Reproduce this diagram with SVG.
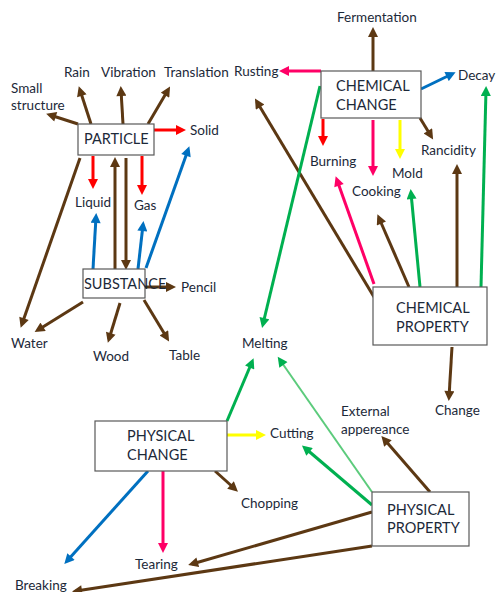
<svg xmlns="http://www.w3.org/2000/svg" width="497" height="592" viewBox="0 0 497 592">
<defs>
<style>
text{font-family:Lato,"Open Sans","Liberation Sans",sans-serif;font-size:13.5px;fill:#1c2939}
.bx{font-size:14.5px}
rect{fill:#fff;stroke:#595959;stroke-width:1.2}
line{stroke-width:3;fill:none}
.br{stroke:#5c3813;marker-end:url(#mbr)}
.rd{stroke:#ff0000;marker-end:url(#mrd)}
.pk{stroke:#ff0066;marker-end:url(#mpk)}
.bl{stroke:#0070c0;marker-end:url(#mbl)}
.gn{stroke:#00b050;marker-end:url(#mgn)}
.lg{stroke:#5ccb7c;stroke-width:2;marker-end:url(#mlg)}
.yl{stroke:#ffff00;marker-end:url(#myl)}
</style>
<marker id="mbr" viewBox="0 0 10 10" refX="6" refY="5" markerWidth="11" markerHeight="10" markerUnits="userSpaceOnUse" orient="auto"><path d="M0,0L10,5L0,10z" fill="#5c3813"/></marker>
<marker id="mrd" viewBox="0 0 10 10" refX="6" refY="5" markerWidth="11" markerHeight="10" markerUnits="userSpaceOnUse" orient="auto"><path d="M0,0L10,5L0,10z" fill="#ff0000"/></marker>
<marker id="mpk" viewBox="0 0 10 10" refX="6" refY="5" markerWidth="11" markerHeight="10" markerUnits="userSpaceOnUse" orient="auto"><path d="M0,0L10,5L0,10z" fill="#ff0066"/></marker>
<marker id="mbl" viewBox="0 0 10 10" refX="6" refY="5" markerWidth="11" markerHeight="10" markerUnits="userSpaceOnUse" orient="auto"><path d="M0,0L10,5L0,10z" fill="#0070c0"/></marker>
<marker id="mgn" viewBox="0 0 10 10" refX="6" refY="5" markerWidth="11" markerHeight="10" markerUnits="userSpaceOnUse" orient="auto"><path d="M0,0L10,5L0,10z" fill="#00b050"/></marker>
<marker id="mlg" viewBox="0 0 10 10" refX="6" refY="5" markerWidth="11" markerHeight="10" markerUnits="userSpaceOnUse" orient="auto"><path d="M0,0L10,5L0,10z" fill="#00b050"/></marker>
<marker id="myl" viewBox="0 0 10 10" refX="6" refY="5" markerWidth="11" markerHeight="10" markerUnits="userSpaceOnUse" orient="auto"><path d="M0,0L10,5L0,10z" fill="#ffff00"/></marker>
</defs>
<rect x="0" y="0" width="497" height="592" style="fill:#fff;stroke:none"/>

<g id="connectors">
<line class="br" x1="78" y1="124" x2="50" y2="115"/>
<line class="br" x1="91" y1="124" x2="80" y2="90"/>
<line class="br" x1="123" y1="124" x2="121" y2="90"/>
<line class="br" x1="148" y1="124" x2="168" y2="90"/>
<line class="br" x1="115" y1="269" x2="115" y2="161"/>
<line class="br" x1="126" y1="158" x2="126" y2="266"/>
<line class="br" x1="80" y1="158" x2="22" y2="324"/>
<line class="br" x1="83" y1="302" x2="38" y2="330"/>
<line class="br" x1="120" y1="303" x2="109" y2="339"/>
<line class="br" x1="144" y1="300" x2="167" y2="338"/>
<line class="br" x1="145" y1="287" x2="172" y2="287"/>
<line class="br" x1="373" y1="71" x2="373" y2="31"/>
<line class="br" x1="420" y1="118" x2="431" y2="136"/>
<line class="br" x1="374" y1="297" x2="257" y2="102"/>
<line class="br" x1="409" y1="287" x2="379" y2="218"/>
<line class="br" x1="457" y1="287" x2="457" y2="168"/>
<line class="br" x1="452" y1="347" x2="449" y2="397"/>
<line class="br" x1="215" y1="471" x2="235" y2="489"/>
<line class="br" x1="430" y1="492" x2="384" y2="439"/>
<line class="br" x1="372" y1="512" x2="192" y2="564"/>
<line class="br" x1="372" y1="546" x2="76" y2="591"/>

<line class="rd" x1="93" y1="156" x2="93" y2="185"/>
<line class="rd" x1="142" y1="156" x2="142" y2="191"/>
<line class="rd" x1="154" y1="130" x2="182" y2="130"/>
<line class="rd" x1="323" y1="119" x2="323" y2="142"/>

<line class="pk" x1="321" y1="71" x2="283" y2="71"/>
<line class="pk" x1="373" y1="120" x2="373" y2="172"/>
<line class="pk" x1="374" y1="284" x2="337" y2="180"/>
<line class="pk" x1="163" y1="471" x2="163" y2="549"/>

<line class="bl" x1="421" y1="89" x2="452" y2="74"/>
<line class="bl" x1="93" y1="269" x2="96" y2="217"/>
<line class="bl" x1="138" y1="269" x2="143" y2="225"/>
<line class="bl" x1="146" y1="268" x2="188" y2="150"/>
<line class="bl" x1="148" y1="471" x2="67" y2="561"/>

<line class="gn" x1="320" y1="86" x2="263" y2="324"/>
<line class="gn" x1="420" y1="287" x2="411" y2="193"/>
<line class="gn" x1="481" y1="287" x2="486" y2="90"/>
<line class="gn" x1="227" y1="421" x2="252" y2="362"/>
<line class="gn" x1="372" y1="505" x2="305" y2="448"/>
<line class="lg" x1="372" y1="492" x2="280" y2="360"/>

<line class="yl" x1="400" y1="120" x2="400" y2="155"/>
<line class="yl" x1="227" y1="435" x2="262" y2="435"/>
</g>

<g id="particle"><rect x="78" y="124" width="76" height="31"/><text class="bx" x="84" y="144">PARTICLE</text></g>
<g id="substance"><rect x="83" y="269" width="62" height="29"/><text class="bx" x="84" y="289">SUBSTANCE</text></g>
<g id="chemical-change"><rect x="321" y="71" width="100" height="47"/><text class="bx" x="336" y="91">CHEMICAL</text><text class="bx" x="336" y="110">CHANGE</text></g>
<g id="chemical-property"><rect x="373" y="287" width="114" height="58"/><text class="bx" x="396" y="313">CHEMICAL</text><text class="bx" x="396" y="332">PROPERTY</text></g>
<g id="physical-change"><rect x="95" y="421" width="132" height="50"/><text class="bx" x="127" y="441">PHYSICAL</text><text class="bx" x="127" y="460">CHANGE</text></g>
<g id="physical-property"><rect x="372" y="492" width="97" height="54"/><text class="bx" x="387" y="515">PHYSICAL</text><text class="bx" x="387" y="533">PROPERTY</text></g>

<g id="labels">
<g id="small-structure"><text x="11" y="93">Small</text><text x="11" y="110">structure</text></g>
<g id="rain"><text x="64" y="77">Rain</text></g>
<g id="vibration"><text x="101" y="77">Vibration</text></g>
<g id="translation"><text x="164" y="77">Translation</text></g>
<g id="rusting"><text x="234" y="76">Rusting</text></g>
<g id="solid"><text x="190" y="135">Solid</text></g>
<g id="fermentation"><text x="337" y="22">Fermentation</text></g>
<g id="decay"><text x="458" y="80">Decay</text></g>
<g id="burning"><text x="310" y="166">Burning</text></g>
<g id="rancidity"><text x="421" y="155">Rancidity</text></g>
<g id="mold"><text x="392" y="178">Mold</text></g>
<g id="cooking"><text x="352" y="196">Cooking</text></g>
<g id="liquid"><text x="75" y="207">Liquid</text></g>
<g id="gas"><text x="134" y="210">Gas</text></g>
<g id="pencil"><text x="181" y="292">Pencil</text></g>
<g id="water"><text x="11" y="348">Water</text></g>
<g id="wood"><text x="93" y="361">Wood</text></g>
<g id="table"><text x="169" y="360">Table</text></g>
<g id="melting"><text x="242" y="348">Melting</text></g>
<g id="change"><text x="435" y="415">Change</text></g>
<g id="external-appereance"><text x="341" y="416">External</text><text x="341" y="434">appereance</text></g>
<g id="cutting"><text x="270" y="438">Cutting</text></g>
<g id="chopping"><text x="241" y="508">Chopping</text></g>
<g id="tearing"><text x="135" y="569">Tearing</text></g>
<g id="breaking"><text x="15" y="590">Breaking</text></g>
</g>
</svg>
